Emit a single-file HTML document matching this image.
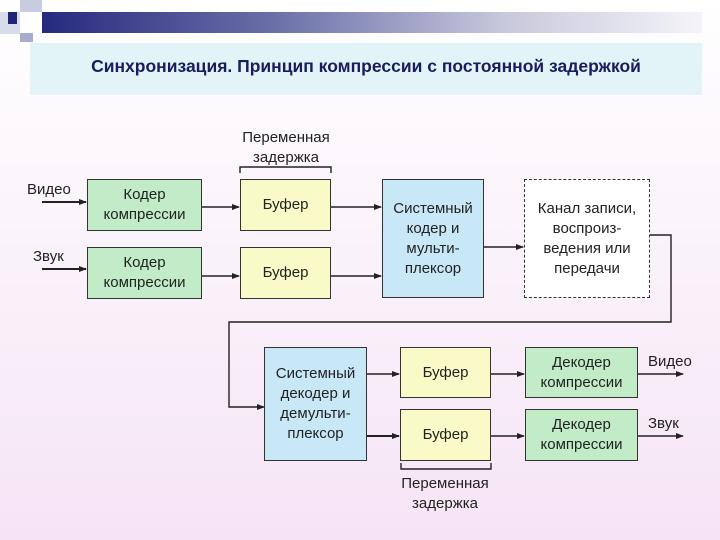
<!DOCTYPE html>
<html><head><meta charset="utf-8"><style>
body{margin:0;width:720px;height:540px;overflow:hidden;background:linear-gradient(#ffffff 0%,#fbf4fb 40%,#f5e4f5 100%);font-family:"Liberation Sans",sans-serif;position:relative}
.b{position:absolute;border:1.5px solid #333;box-sizing:border-box;display:flex;align-items:center;justify-content:center;text-align:center;font-size:15px;line-height:20px;color:#222}
.g{background:#c2ecc8}.y{background:#fafac8}.c{background:#c8e8f8}
.t{position:absolute;font-size:15px;color:#222;line-height:20px}
</style></head><body>
<div style="position:absolute;left:42px;top:12px;width:660px;height:21px;background:linear-gradient(90deg,#262a7e,#6a6fa8 35%,#c8c8dc 70%,#f4f4f8)"></div>
<div style="position:absolute;left:20px;top:0;width:22px;height:12px;background:#c8cce0"></div>
<div style="position:absolute;left:0;top:12px;width:20px;height:22px;background:#d8dcea"></div>
<div style="position:absolute;left:8px;top:12px;width:9px;height:12px;background:#1e2478"></div>
<div style="position:absolute;left:20px;top:33px;width:13px;height:9px;background:#a8acca"></div>
<div style="position:absolute;left:30px;top:43px;width:672px;height:52px;background:#e2f4f8"></div>
<div style="position:absolute;left:30px;top:56px;width:672px;text-align:center;font-weight:bold;font-size:17.5px;color:#1a1c5c;font-family:'Liberation Sans',sans-serif">Синхронизация. Принцип компрессии с постоянной задержкой</div>

<svg style="position:absolute;left:0;top:0" width="720" height="540">
<defs><marker id="a" markerWidth="8" markerHeight="8" refX="7" refY="4" orient="auto" markerUnits="userSpaceOnUse"><path d="M0,1 L8,4 L0,7z" fill="#222"/></marker></defs>
<g stroke="#222" stroke-width="1.4" fill="none">
<line x1="42" y1="202" x2="86" y2="202" marker-end="url(#a)" stroke-width="2"/>
<line x1="42" y1="269" x2="86" y2="269" marker-end="url(#a)" stroke-width="2"/>
<line x1="202" y1="207" x2="239" y2="207" marker-end="url(#a)"/>
<line x1="202" y1="276" x2="239" y2="276" marker-end="url(#a)"/>
<line x1="331" y1="207" x2="381" y2="207" marker-end="url(#a)"/>
<line x1="331" y1="276" x2="381" y2="276" marker-end="url(#a)"/>
<line x1="484" y1="247" x2="523" y2="247" marker-end="url(#a)"/>
<polyline points="650,235 671,235 671,322 229,322 229,407 264,407" marker-end="url(#a)"/>
<line x1="367" y1="374" x2="399" y2="374" marker-end="url(#a)"/>
<line x1="367" y1="436" x2="399" y2="436" marker-end="url(#a)" stroke-width="2"/>
<line x1="491" y1="374" x2="524" y2="374" marker-end="url(#a)"/>
<line x1="491" y1="436" x2="524" y2="436" marker-end="url(#a)"/>
<line x1="638" y1="374" x2="683" y2="374" marker-end="url(#a)"/>
<line x1="638" y1="436" x2="683" y2="436" marker-end="url(#a)"/>
<polyline points="240,173 240,167 331,167 331,173"/>
<polyline points="401,463 401,469 491,469 491,463"/>
</g></svg>

<div class="t" style="left:236px;top:128px;width:100px;text-align:center">Переменная<br>задержка</div>
<div class="t" style="left:27px;top:180px">Видео</div>
<div class="t" style="left:33px;top:247px">Звук</div>
<div class="b g" style="left:87px;top:179px;width:115px;height:52px">Кодер<br>компрессии</div>
<div class="b g" style="left:87px;top:247px;width:115px;height:52px">Кодер<br>компрессии</div>
<div class="b y" style="left:240px;top:179px;width:91px;height:52px">Буфер</div>
<div class="b y" style="left:240px;top:247px;width:91px;height:52px">Буфер</div>
<div class="b c" style="left:382px;top:179px;width:102px;height:119px">Системный<br>кодер и<br>мульти-<br>плексор</div>
<div class="b" style="left:524px;top:179px;width:126px;height:119px;background:#fff;border:1.5px dashed #333">Канал записи,<br>воспроиз-<br>ведения или<br>передачи</div>

<div class="b c" style="left:264px;top:347px;width:103px;height:114px">Системный<br>декодер и<br>демульти-<br>плексор</div>
<div class="b y" style="left:400px;top:347px;width:91px;height:51px">Буфер</div>
<div class="b y" style="left:400px;top:409px;width:91px;height:52px">Буфер</div>
<div class="b g" style="left:525px;top:347px;width:113px;height:51px">Декодер<br>компрессии</div>
<div class="b g" style="left:525px;top:409px;width:113px;height:52px">Декодер<br>компрессии</div>
<div class="t" style="left:648px;top:352px">Видео</div>
<div class="t" style="left:648px;top:414px">Звук</div>
<div class="t" style="left:395px;top:474px;width:100px;text-align:center">Переменная<br>задержка</div>
</body></html>
